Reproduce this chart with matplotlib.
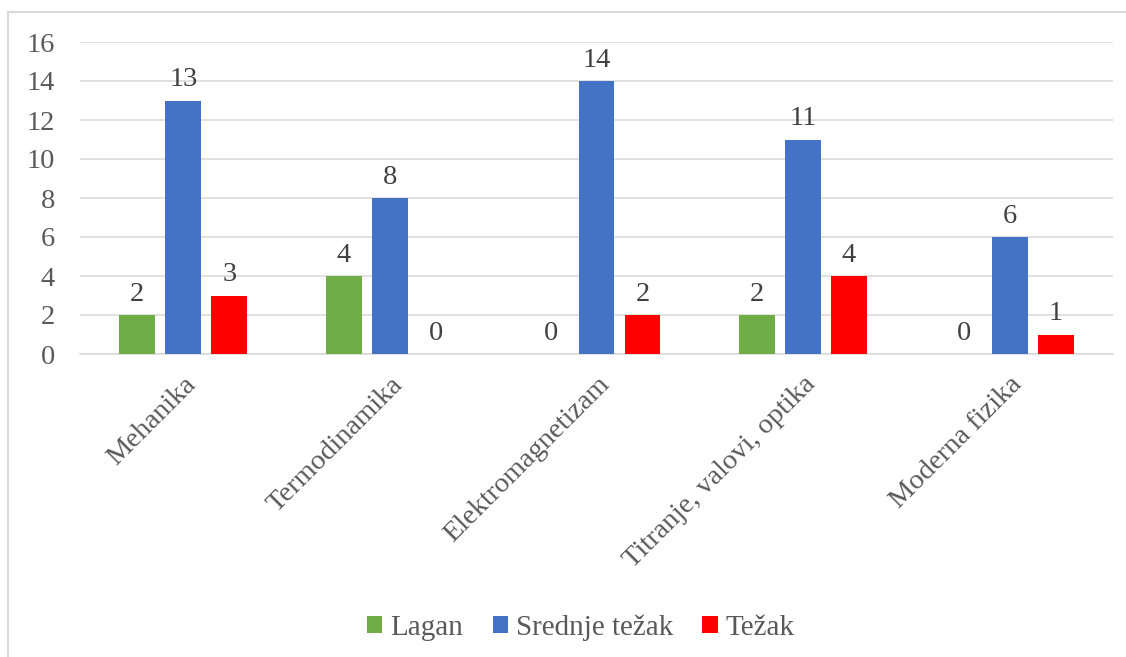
import numpy as np
import matplotlib.pyplot as plt
from matplotlib.lines import Line2D

plt.rcParams['font.family'] = ['Liberation Serif', 'DejaVu Serif']

kategorije = ['Mehanika', 'Termodinamika', 'Elektromagnetizam', 'Titranje, valovi, optika', 'Moderna fizika']
lagan = [2, 4, 0, 2, 0]
srednje = [13, 8, 14, 11, 6]
tezak = [3, 0, 2, 4, 1]
serije = ['Lagan', 'Srednje težak', 'Težak']
boje = ['#70AD47', '#4472C4', '#FF0000']
siva = '#595959'

fig = plt.figure(figsize=(11.26, 6.57), dpi=100)
ax = fig.add_axes([80 / 1126, 1 - 354 / 657, (1113 - 80) / 1126, (354 - 42) / 657])

x = np.arange(len(kategorije))
sirina = 0.174
korak = 0.2226
for i, (vrijednosti, boja, ime) in enumerate(zip([lagan, srednje, tezak], boje, serije)):
    stupci = ax.bar(x + (i - 1) * korak, vrijednosti, sirina, color=boja, label=ime, zorder=3)
    ax.bar_label(stupci, padding=6, fontsize=20.5, color='#404040')

ax.set_xlim(-0.5, len(kategorije) - 0.5)
ax.set_ylim(0, 16)
ax.set_yticks(range(0, 17, 2))
ax.grid(axis='y', color='#d9d9d9', linewidth=1.1, zorder=0)
ax.set_axisbelow(True)
for s in ['top', 'right', 'left']:
    ax.spines[s].set_visible(False)
ax.spines['bottom'].set_color('#d9d9d9')
ax.spines['bottom'].set_linewidth(1.1)
ax.tick_params(axis='both', length=0, labelsize=20.5, labelcolor=siva)
ax.tick_params(axis='y', pad=18)
ax.set_xticks(x)
ax.set_xticklabels(kategorije, rotation=45, ha='right', rotation_mode='anchor')
ax.tick_params(axis='x', pad=13)

ax.legend(loc='center', bbox_to_anchor=(0.516, 0.045), bbox_transform=fig.transFigure,
          ncol=3, frameon=False, fontsize=21, labelcolor=siva, handlelength=0.52,
          handleheight=0.52, handletextpad=0.28, columnspacing=1.0)

# okvir grafikona
fig.add_artist(Line2D([8 / 1126, 8 / 1126], [0, 1 - 12 / 657], color='#d9d9d9', linewidth=1.5))
fig.add_artist(Line2D([8 / 1126, 1], [1 - 12 / 657, 1 - 12 / 657], color='#d9d9d9', linewidth=1.5))

fig.savefig('out.png', dpi=100)
